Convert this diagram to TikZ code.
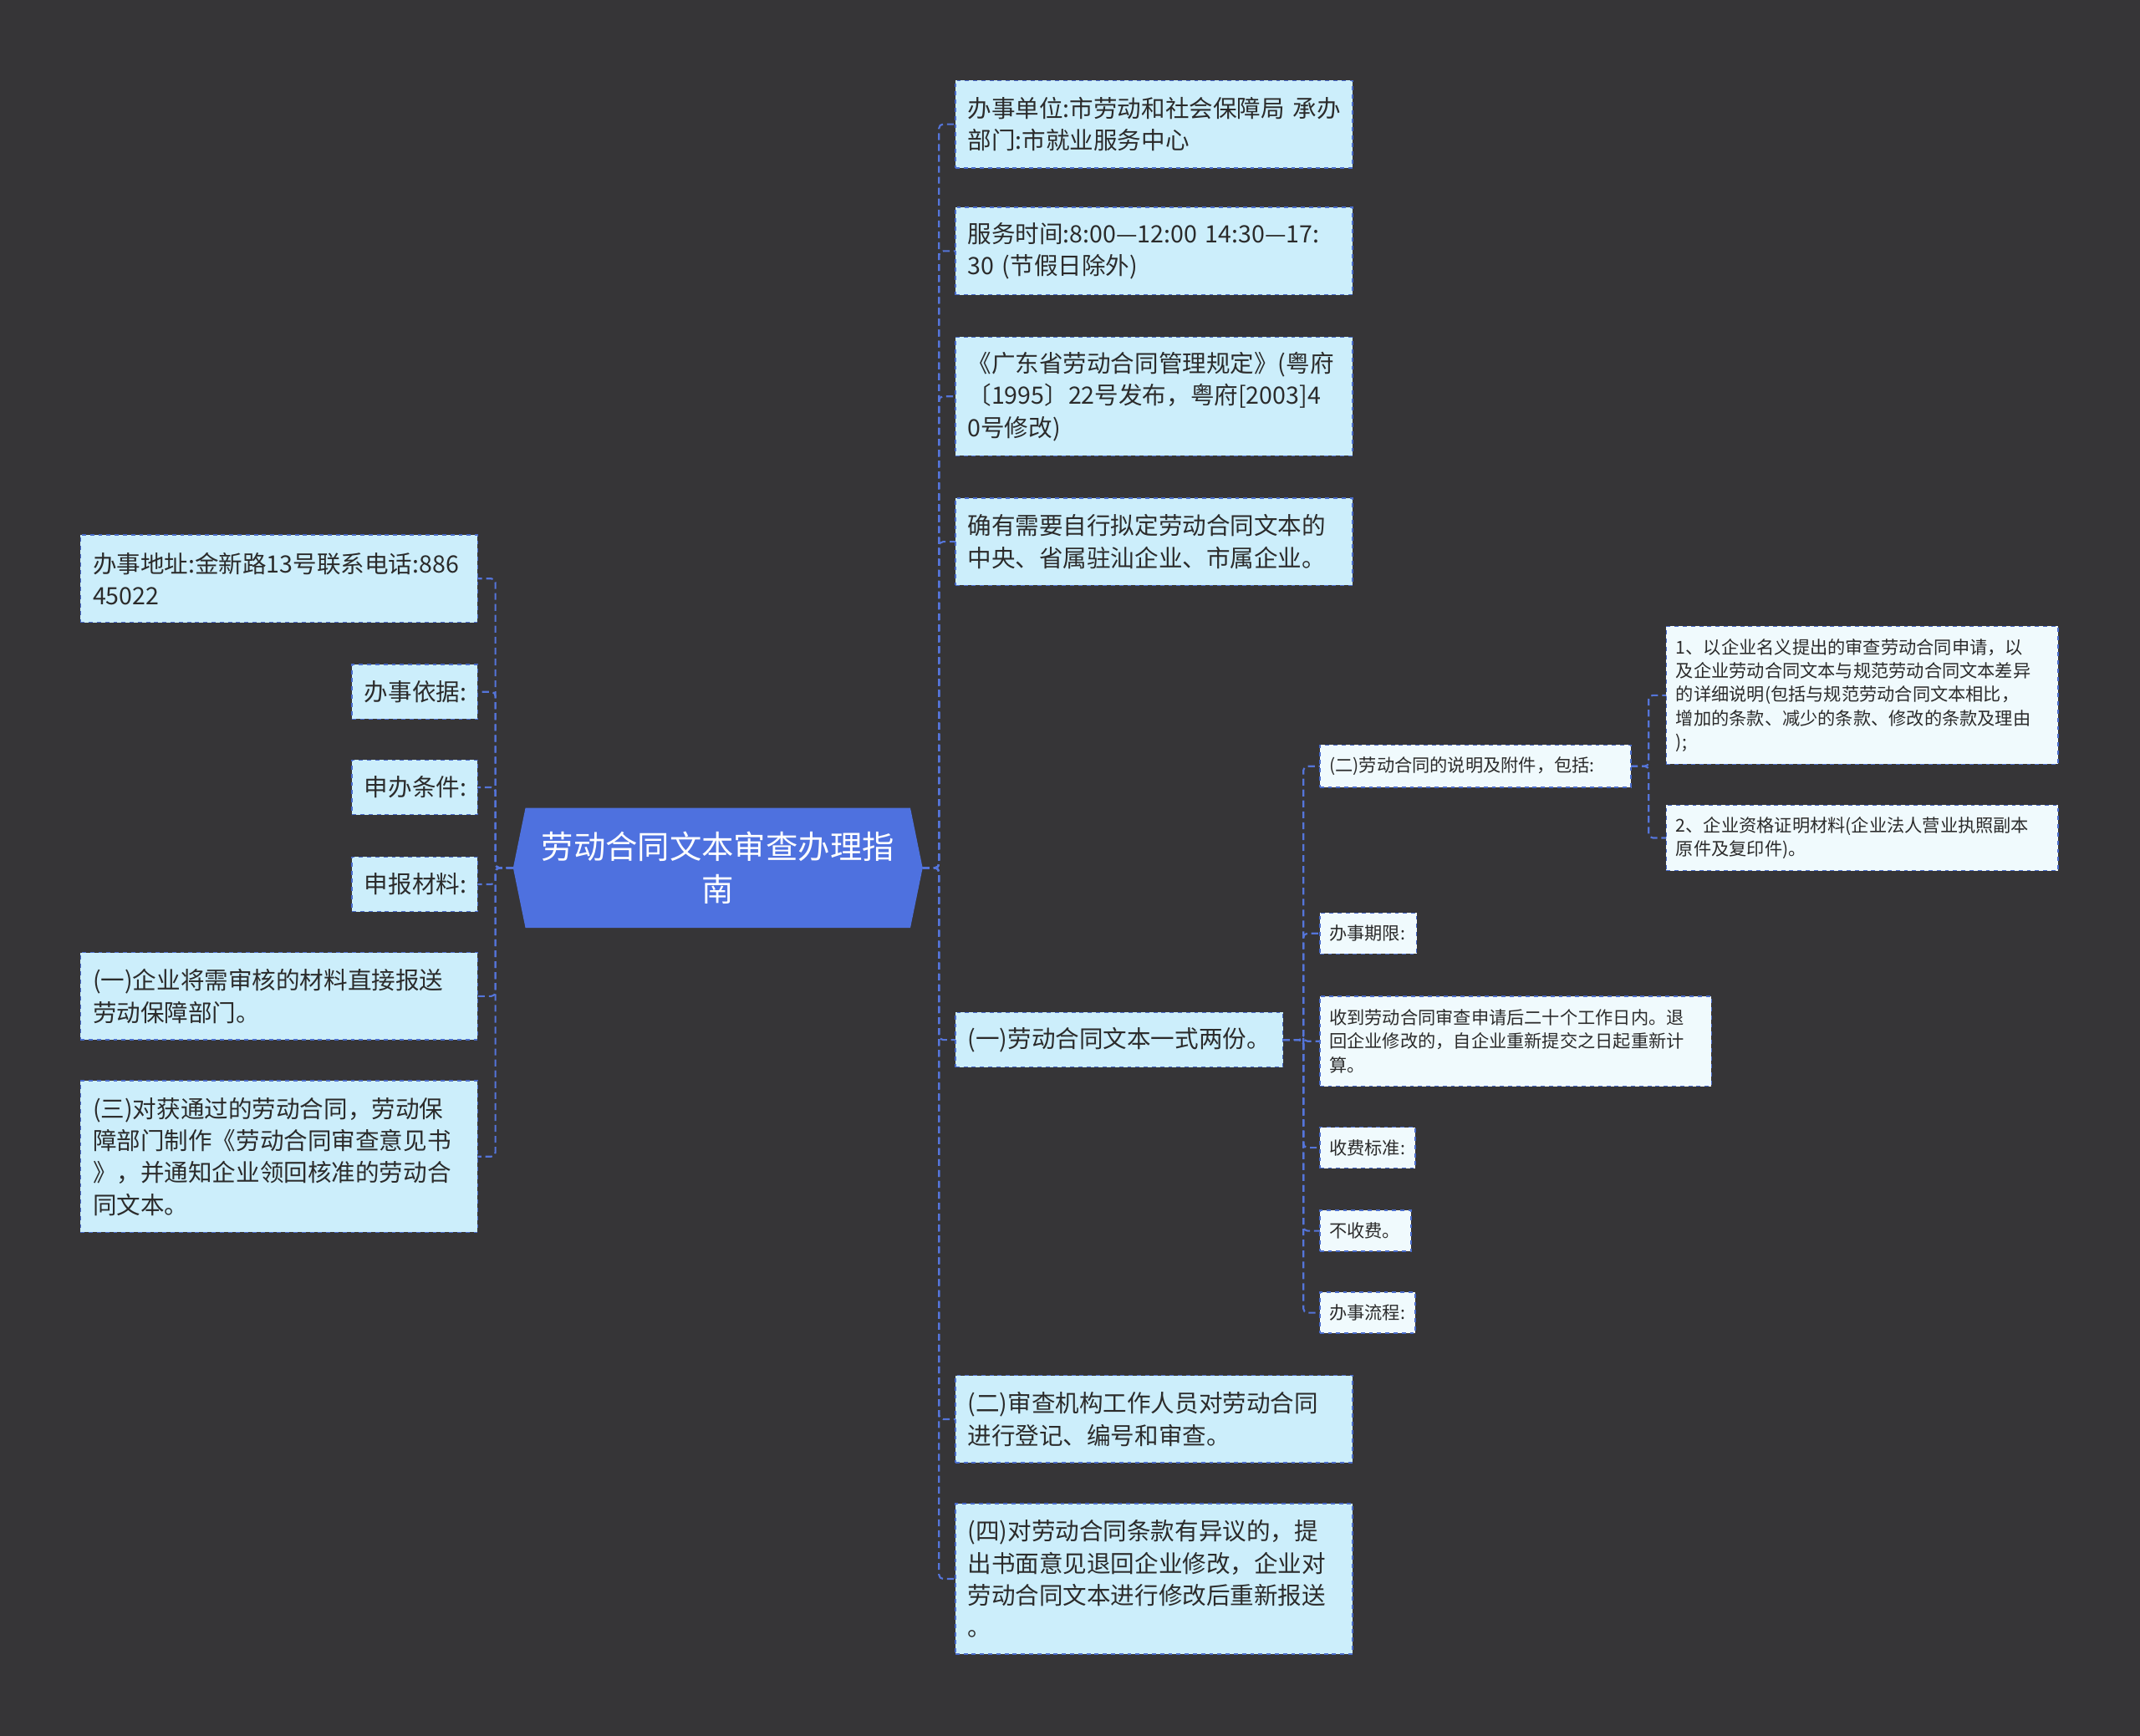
\documentclass[tikz,border=0pt]{standalone}
\usepackage{fontspec}
\setmainfont{Noto Sans CJK SC}
\usepackage{tikz}
\usetikzlibrary{positioning,calc,backgrounds}
\definecolor{bgdark}{HTML}{363537}
\definecolor{rootblue}{HTML}{4E71DF}
\definecolor{topicfill}{HTML}{CCEEFB}
\definecolor{subfill}{HTML}{F0FAFD}
\definecolor{edgeblue}{HTML}{4A6CCB}
\definecolor{linkblue}{HTML}{5575DA}
\definecolor{ink}{HTML}{2B2B2B}
\newcommand\rootfont{\fontsize{23.5}{31}\selectfont}
\newcommand\topicfont{\fontsize{17.5}{23.5}\selectfont}
\newcommand\subfont{\fontsize{13}{17.3}\selectfont}
\tikzset{
    rootbox/.style={minimum width=300pt,minimum height=88pt,inner sep=0pt,outer sep=0pt,
      text=white,font=\rootfont,align=center},
    topicbox/.style={draw=edgeblue,fill=topicfill,dashed,line width=0.9pt,
      inner xsep=9pt,inner ysep=0pt,outer sep=0pt,text=ink,font=\topicfont,align=left},
    subbox/.style={topicbox,fill=subfill,inner xsep=7pt,font=\subfont},
    link/.style={draw=linkblue,line width=1.3pt,dash pattern=on 5pt off 3pt,rounded corners=3pt}
}
\begin{document}
\begin{tikzpicture}[x=1pt,y=-1pt]
  \begin{scope}[on background layer]
    \fill[bgdark] (0,0) rectangle (1568,1272);
  \end{scope}
  \useasboundingbox (0,0) rectangle (1568,1272);
  % centre
  \node[rootbox] (root) at (526,636) {劳动合同文本审查办理指\\南};
  \begin{scope}[on background layer]
    \fill[rootblue] (root.west) -- ([xshift=9pt]root.north west) -- ([xshift=-9pt]root.north east)
      -- (root.east) -- ([xshift=-9pt]root.south east) -- ([xshift=9pt]root.south west) -- cycle;
  \end{scope}
  % right branch
  \foreach \n/\y/\w/\h/\txt [evaluate=\w as \tw using \w-18] in {
      r1/59/291/64/{办事单位:市劳动和社会保障局~承办\\部门:市就业服务中心},
      r2/152/291/64/{服务时间:8:00—12:00~14:30—17:\\30~(节假日除外)},
      r3/247/291/87/{《广东省劳动合同管理规定》(粤府\\〔1995〕22号发布，粤府[2003]4\\0号修改)},
      r4/365/291/64/{确有需要自行拟定劳动合同文本的\\中央、省属驻汕企业、市属企业。},
      r5/742/240/40/{(一)劳动合同文本一式两份。},
      r6/1008/291/64/{(二)审查机构工作人员对劳动合同\\进行登记、编号和审查。},
      r7/1102/291/110/{(四)对劳动合同条款有异议的，提\\出书面意见退回企业修改，企业对\\劳动合同文本进行修改后重新报送\\。}}
    \node[topicbox,text width=\tw pt,minimum height=\h,anchor=north west] (\n) at (700,\y) {\txt};
  % details of (一)
  \foreach \n/\y/\w/\h/\txt [evaluate=\w as \tw using \w-14] in {
      s1/546/228/31/{(二)劳动合同的说明及附件，包括:},
      s2/669/71/30/{办事期限:},
      s3/730/287/66/{收到劳动合同审查申请后二十个工作日内。退\\回企业修改的，自企业重新提交之日起重新计\\算。},
      s4/826/70/30/{收费标准:},
      s5/887/67/30/{不收费。},
      s6/947/70/30/{办事流程:}}
    \node[subbox,text width=\tw pt,minimum height=\h,anchor=north west] (\n) at (967,\y) {\txt};
  \foreach \n/\y/\h/\txt in {
      t1/459/101/{1、以企业名义提出的审查劳动合同申请，以\\及企业劳动合同文本与规范劳动合同文本差异\\的详细说明(包括与规范劳动合同文本相比，\\增加的条款、减少的条款、修改的条款及理由\\);},
      t2/590/48/{2、企业资格证明材料(企业法人营业执照副本\\原件及复印件)。}}
    \node[subbox,text width=273pt,minimum height=\h,anchor=north west] (\n) at (1221,\y) {\txt};
  % left branch
  \foreach \n/\y/\w/\h/\txt [evaluate=\w as \tw using \w-18] in {
      l1/392/291/64/{办事地址:金新路13号联系电话:886\\45022},
      l2/487/92/40/{办事依据:},
      l3/557/92/40/{申办条件:},
      l4/628/92/40/{申报材料:},
      l5/698/291/64/{(一)企业将需审核的材料直接报送\\劳动保障部门。},
      l6/792/291/111/{(三)对获通过的劳动合同，劳动保\\障部门制作《劳动合同审查意见书\\》，并通知企业领回核准的劳动合\\同文本。}}
    \node[topicbox,text width=\tw pt,minimum height=\h,anchor=north east] (\n) at (350,\y) {\txt};
  % connectors
  \foreach \n in {r1,r2,r3,r4,r5,r6,r7}
    \draw[link] (root.east) -- ++(12,0) |- (\n.west);
  \foreach \n in {l1,l2,l3,l4,l5,l6}
    \draw[link] (root.west) -- ++(-13,0) |- (\n.east);
  \foreach \n in {s1,s2,s3,s4,s5,s6}
    \draw[link] (r5.east) -- ++(15,0) |- (\n.west);
  \foreach \n in {t1,t2}
    \draw[link] (s1.east) -- ++(13,0) |- (\n.west);
\end{tikzpicture}
\end{document}
